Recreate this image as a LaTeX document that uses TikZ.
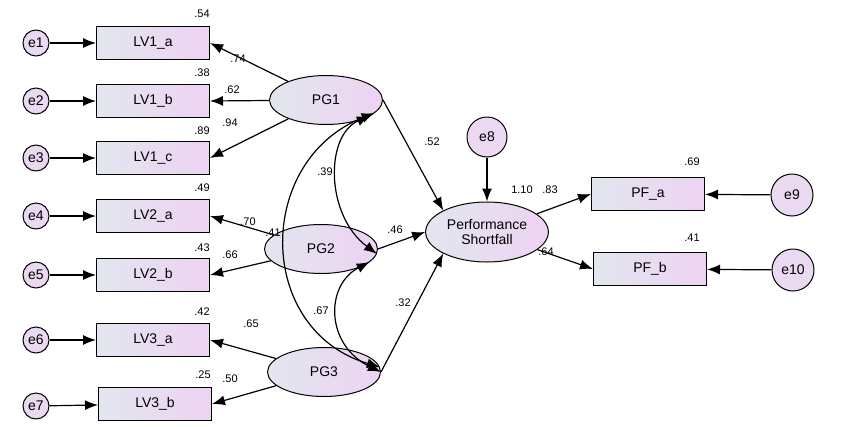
\documentclass[tikz,border=0pt]{standalone}
\usepackage{fontspec}
\setmainfont{Liberation Sans}
\usetikzlibrary{arrows.meta,positioning,shapes.geometric}
\definecolor{shadeleft}{HTML}{E3E6EF}
\definecolor{shaderight}{HTML}{EDD3F2}
\definecolor{errfill}{HTML}{EAD9F0}

\begin{document}
\begin{tikzpicture}[x=1pt,y=-1pt,
  obs/.style={draw, line width=1pt, left color=shadeleft, right color=shaderight,
              minimum width=113pt, minimum height=33pt, font=\fontsize{14}{14}\selectfont},
  latent/.style={draw, ellipse, line width=1pt, left color=shadeleft, right color=shaderight,
                 minimum width=113pt, minimum height=49pt, font=\fontsize{14}{15}\selectfont, align=center},
  err/.style={draw, circle, line width=1pt, fill=errfill, inner sep=0pt,
              minimum size=26pt, font=\fontsize{14}{14}\selectfont},
  arrow/.style={-{Latex[length=13pt,width=10pt]}, line width=1.2pt},
  both/.style={{Latex[length=13pt,width=10pt]}-{Latex[length=13pt,width=10pt]}, line width=1.2pt},
  est/.style={font=\fontsize{11}{11}\selectfont, inner sep=1pt},
]
  \useasboundingbox (0,0) rectangle (843,426);

  % indicators
  \node[obs] (lv1a) at (153,43)  {LV1\_a};
  \node[obs] (lv1b) at (153,101) {LV1\_b};
  \node[obs] (lv1c) at (153,158) {LV1\_c};
  \node[obs] (lv2a) at (153,216) {LV2\_a};
  \node[obs] (lv2b) at (153,275) {LV2\_b};
  \node[obs] (lv3a) at (153,340) {LV3\_a};
  \node[obs] (lv3b) at (155,404) {LV3\_b};
  \node[obs] (pfa)  at (648,194) {PF\_a};
  \node[obs] (pfb)  at (650,269) {PF\_b};

  % errors
  \node[err] (e1) at (36,43)  {e1};
  \node[err] (e2) at (36,101) {e2};
  \node[err] (e3) at (36,158) {e3};
  \node[err] (e4) at (36,216) {e4};
  \node[err] (e5) at (36,275) {e5};
  \node[err] (e6) at (36,340) {e6};
  \node[err] (e7) at (36,406) {e7};
  \node[err, minimum size=40pt] (e8)  at (487,137) {e8};
  \node[err, minimum size=42pt] (e9)  at (792,195) {e9};
  \node[err, minimum size=42pt] (e10) at (793,270) {e10};

  % latents
  \node[latent] (pg1) at (326,100) {PG1};
  \node[latent] (pg2) at (321,249) {PG2};
  \node[latent] (pg3) at (324,372) {PG3};
  \node[latent, minimum height=60pt] (ps) at (487,232) {Performance\\Shortfall};

  \foreach \e/\v in {e1/lv1a, e2/lv1b, e3/lv1c, e4/lv2a, e5/lv2b, e6/lv3a, e7/lv3b}
    \draw[arrow] (\e) -- (\v);
  \draw[arrow] (e9) -- (pfa);
  \draw[arrow] (e10) -- (pfb);
  \draw[arrow] (e8) -- (ps);

  \draw[arrow] (pg1) -- (lv1a.east);
  \draw[arrow] (pg1) -- (lv1b.east);
  \draw[arrow] (pg1) -- (lv1c.east);
  \draw[arrow] (pg2) -- (lv2a.east);
  \draw[arrow] (pg2) -- (lv2b.east);
  \draw[arrow] (pg3) -- (lv3a.east);
  \draw[arrow] (pg3) -- (lv3b.east);

  \draw[arrow] (pg1.east) -- (ps.north west);
  \draw[arrow] (pg2.east) -- (ps.west);
  \draw[arrow] (pg3.east) -- (ps.south west);
  \draw[arrow] (ps) -- (pfa.west);
  \draw[arrow] (ps) -- (pfb.west);

  % covariances
  \draw[both] (pg1.-20) .. controls (325,135) and (325,215) .. (pg2.-5);
  \draw[both] (pg2.-15) .. controls (325,285) and (325,345) .. (pg3.0);
  \draw[both] (pg1.-15) .. controls (255,160) and (255,330) .. (pg3.5);

  % estimates
  \node[est] at (202,14)  {.54};
  \node[est] at (202,73)  {.38};
  \node[est] at (202,131) {.89};
  \node[est] at (202,188) {.49};
  \node[est] at (202,248) {.43};
  \node[est] at (202,312) {.42};
  \node[est] at (203,375) {.25};
  \node[est] at (692,162) {.69};
  \node[est] at (692,238) {.41};
  \node[est] at (238,59)  {.74};
  \node[est] at (232,90)  {.62};
  \node[est] at (230,123) {.94};
  \node[est] at (248,222) {.70};
  \node[est] at (273,233) {.41};
  \node[est] at (230,255) {.66};
  \node[est] at (251,324) {.65};
  \node[est] at (230,379) {.50};
  \node[est] at (432,142) {.52};
  \node[est] at (395,230) {.46};
  \node[est] at (403,303) {.32};
  \node[est] at (325,172) {.39};
  \node[est] at (321,311) {.67};
  \node[est] at (522,190) {1.10};
  \node[est] at (550,190) {.83};
  \node[est] at (546,252) {.64};
\end{tikzpicture}
\end{document}
